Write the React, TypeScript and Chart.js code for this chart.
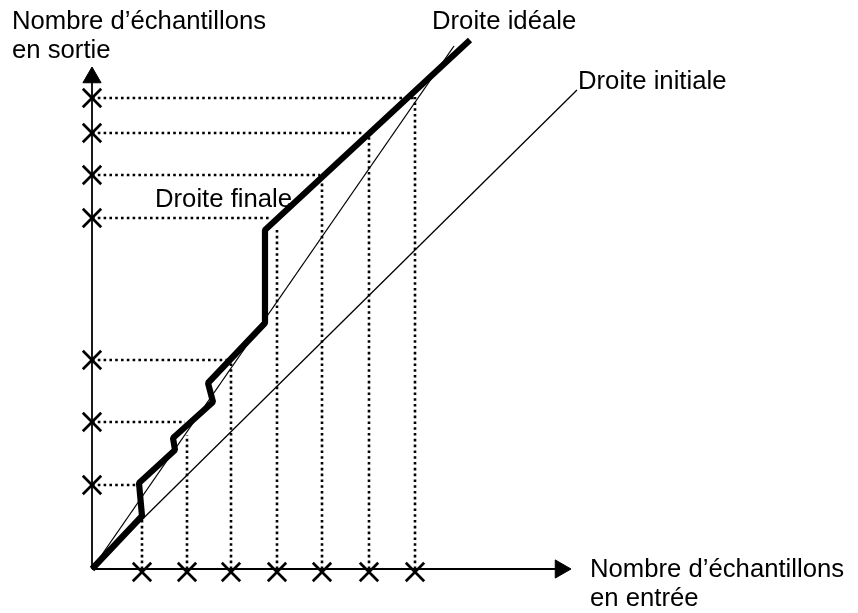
import React, { useEffect, useRef } from "react";
import { Chart, registerables } from "chart.js";

Chart.register(...registerables);

// Input sample counts (x) marked on the horizontal axis
const xMarks = [50, 95, 139, 185, 230, 277, 323];
// Output sample counts (y) marked on the vertical axis
const yMarks = [84, 147, 209, 351, 394, 436, 471];
// Where each vertical dotted guide stops (y) and each horizontal guide stops (x)
const vGuideTop = [52, 134, 209, 339, 386, 432, 472];
const hGuideEnd = [44, 93, 135, 179, 228, 272, 323];

// "Droite finale" (thick broken line)
const finalX = [0, 50, 47, 83, 81, 121, 116, 173, 173, 378];
const finalY = [0, 53, 86, 119, 131, 167, 186, 246, 339, 529];
// "Droite idéale"
const idealX = [0, 362];
const idealY = [0, 523];
// "Droite initiale"
const initX = [0, 485];
const initY = [0, 479];

// Axis extents (arrow tips)
const xAxisEnd = 479;
const yAxisEnd = 502;

const FONT = '25.7px "Liberation Sans", Arial, sans-serif';

const pts = (xs: number[], ys: number[]) => xs.map((x, i) => ({ x, y: ys[i] }));

export default function App() {
  const ref = useRef<HTMLCanvasElement | null>(null);

  useEffect(() => {
    if (!ref.current) return;

    const labels = [
      { lines: ["Nombre d’échantillons", "en sortie"], x: -80, y: 540, lh: 29 },
      { lines: ["Nombre d’échantillons", "en entrée"], x: 498, y: -8, lh: 29 },
      { lines: ["Droite idéale"], x: 340, y: 540, lh: 29 },
      { lines: ["Droite initiale"], x: 486, y: 480, lh: 29 },
      { lines: ["Droite finale"], x: 63, y: 362, lh: 29 },
    ];

    const textPlugin = {
      id: "texts",
      afterDatasetsDraw(chart: any) {
        const { ctx, scales } = chart;
        ctx.save();
        ctx.font = FONT;
        ctx.fillStyle = "#000";
        ctx.textBaseline = "alphabetic";
        ctx.textAlign = "left";
        for (const l of labels) {
          const px = scales.x.getPixelForValue(l.x);
          const py = scales.y.getPixelForValue(l.y);
          l.lines.forEach((t, i) => ctx.fillText(t, px, py + i * l.lh));
        }
        ctx.restore();
      },
    };

    const datasets: any[] = [];
    const line = (data: any[], width: number, extra: any = {}) => ({
      data,
      showLine: true,
      borderColor: "#000",
      backgroundColor: "#000",
      borderWidth: width,
      pointRadius: 0,
      pointHoverRadius: 0,
      clip: false,
      ...extra,
    });

    // thick final line (top)
    datasets.push(
      line(pts(finalX, finalY), 6.2, { borderJoinStyle: "bevel", borderCapStyle: "butt" })
    );
    // crosses on axes
    datasets.push({
      data: [
        ...xMarks.map((x) => ({ x, y: -3 })),
        ...yMarks.map((y) => ({ x: 0, y })),
      ],
      showLine: false,
      pointStyle: "crossRot",
      pointRadius: 13,
      pointBorderWidth: 2.7,
      pointBorderColor: "#000",
      clip: false,
    });
    // arrow heads
    const r = 10.5;
    datasets.push({
      data: [{ x: xAxisEnd - r, y: 0 }],
      showLine: false,
      pointStyle: "triangle",
      pointRadius: r,
      rotation: 90,
      pointBackgroundColor: "#000",
      pointBorderColor: "#000",
      pointBorderWidth: 1,
      clip: false,
    });
    datasets.push({
      data: [{ x: 0, y: yAxisEnd - r }],
      showLine: false,
      pointStyle: "triangle",
      pointRadius: r,
      rotation: 0,
      pointBackgroundColor: "#000",
      pointBorderColor: "#000",
      pointBorderWidth: 1,
      clip: false,
    });
    // thin lines
    datasets.push(line(pts(idealX, idealY), 1.3));
    datasets.push(line(pts(initX, initY), 1.3));
    // axes
    datasets.push(line([{ x: 0, y: 0 }, { x: xAxisEnd - 12, y: 0 }], 1.8));
    datasets.push(line([{ x: 0, y: 0 }, { x: 0, y: yAxisEnd - 12 }], 1.8));
    // dotted guides
    xMarks.forEach((x, i) => {
      datasets.push(
        line([{ x, y: 0 }, { x, y: vGuideTop[i] }], 2.6, { borderDash: [2.6, 3.2] })
      );
    });
    yMarks.forEach((y, i) => {
      datasets.push(
        line([{ x: 0, y }, { x: hGuideEnd[i], y }], 2.6, { borderDash: [2.6, 3.2] })
      );
    });

    const chart = new Chart(ref.current, {
      type: "scatter",
      data: { datasets },
      options: {
        responsive: false,
        animation: false,
        events: [],
        layout: { padding: { left: 92, right: 858 - 592, top: 29, bottom: 613 - 569 } },
        plugins: { legend: { display: false }, tooltip: { enabled: false } },
        scales: {
          x: { type: "linear", min: 0, max: 500, display: false },
          y: { type: "linear", min: 0, max: 540, display: false },
        },
      },
      plugins: [textPlugin],
    });
    return () => chart.destroy();
  }, []);

  return (
    <div style={{ position: "fixed", left: 0, top: 0, width: 858, height: 613, background: "#fff" }}>
      <canvas ref={ref} width={858} height={613} />
    </div>
  );
}
